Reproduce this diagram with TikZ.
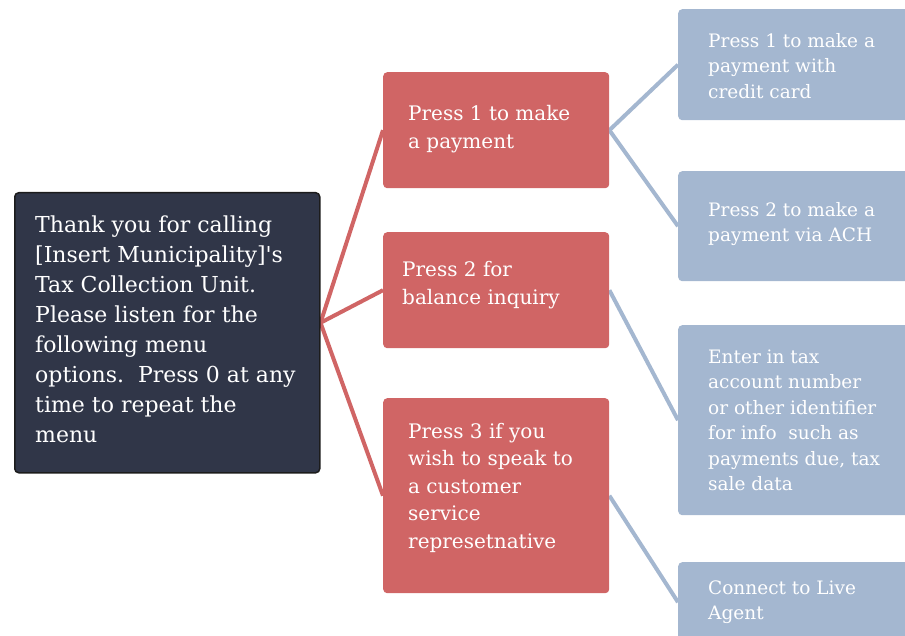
\documentclass[tikz,border=0pt]{standalone}
\usepackage{fontspec}
\setmainfont{DejaVu Serif}
\usetikzlibrary{backgrounds}
\definecolor{navy}{HTML}{303648}
\definecolor{navyedge}{HTML}{1C1C1C}
\definecolor{rosso}{HTML}{D06565}
\definecolor{bluegrey}{HTML}{A4B7D0}
\begin{document}
\begin{tikzpicture}[x=1pt,y=-1pt,
  rootbox/.style={draw=navyedge, line width=1.5pt, fill=navy, rounded corners=4pt, anchor=north west, inner sep=0pt},
  redbox/.style={fill=rosso, rounded corners=4pt, anchor=north west, inner sep=0pt, minimum width=226pt},
  bluebox/.style={fill=bluegrey, rounded corners=4pt, anchor=north west, inner sep=0pt, minimum width=260pt},
  roottext/.style={text=white, align=left, anchor=west, inner sep=0pt, font=\fontsize{22}{30}\selectfont},
  redtext/.style={text=white, align=left, anchor=west, inner sep=0pt, font=\fontsize{20}{27.5}\selectfont},
  bluetext/.style={text=white, align=left, anchor=west, inner sep=0pt, font=\fontsize{18.5}{25.5}\selectfont},
  redline/.style={draw=rosso, line width=4pt},
  blueline/.style={draw=bluegrey, line width=4pt}
]
\useasboundingbox (0,0) rectangle (905,636);
% boxes
\node[rootbox, minimum width=305pt, minimum height=280pt] (root) at (14,192) {};
\node[redbox, minimum height=116pt] (r1) at (383,72) {};
\node[redbox, minimum height=116pt] (r2) at (383,232) {};
\node[redbox, minimum height=195pt] (r3) at (383,398) {};
\node[bluebox, minimum height=111pt] (b1) at (678,9) {};
\node[bluebox, minimum height=110pt] (b2) at (678,171) {};
\node[bluebox, minimum height=190pt] (b3) at (678,325) {};
\node[bluebox, minimum height=80pt] (b4) at (678,562) {};
% texts
\node[roottext] (troot) at ([xshift=21pt,yshift=3pt]root.west) {Thank you for calling\\ {[}Insert Municipality{]}\textquotesingle s\\ Tax Collection Unit.\\ Please listen for the\\ following menu\\ options.\ \ Press 0 at any\\ time to repeat the\\ menu};
\node[redtext] (tr1) at ([xshift=25pt,yshift=1pt]r1.west) {Press 1 to make\\ a payment};
\node[redtext] (tr2) at ([xshift=19pt,yshift=5pt]r2.west) {Press 2 for\\ balance inquiry};
\node[redtext] (tr3) at ([xshift=25pt,yshift=8pt]r3.west) {Press 3 if you\\ wish to speak to\\ a customer\\ service\\ represetnative};
\node[bluetext] (tb1) at ([xshift=30pt,yshift=-1pt]b1.west) {Press 1 to make a\\ payment with\\ credit card};
\node[bluetext] (tb2) at ([xshift=30pt,yshift=2pt]b2.west) {Press 2 to make a\\ payment via ACH};
\node[bluetext] (tb3) at ([xshift=30pt]b3.west) {Enter in tax\\ account number\\ or other identifier\\ for info\ \ such as\\ payments due, tax\\ sale data};
\node[bluetext] (tb4) at ([xshift=30pt]b4.west) {Connect to Live\\ Agent};
% connectors
\begin{scope}[on background layer]
\coordinate (hub) at ([yshift=10pt]root.east);
\draw[redline] (hub) -- (r1.west);
\draw[redline] (hub) -- (r2.west);
\draw[redline] (hub) -- (r3.west);
\draw[blueline] (r1.east) -- (b1.west);
\draw[blueline] (r1.east) -- (b2.west);
\draw[blueline] (r2.east) -- (b3.west);
\draw[blueline] (r3.east) -- (b4.west);
\end{scope}
\end{tikzpicture}
\end{document}
